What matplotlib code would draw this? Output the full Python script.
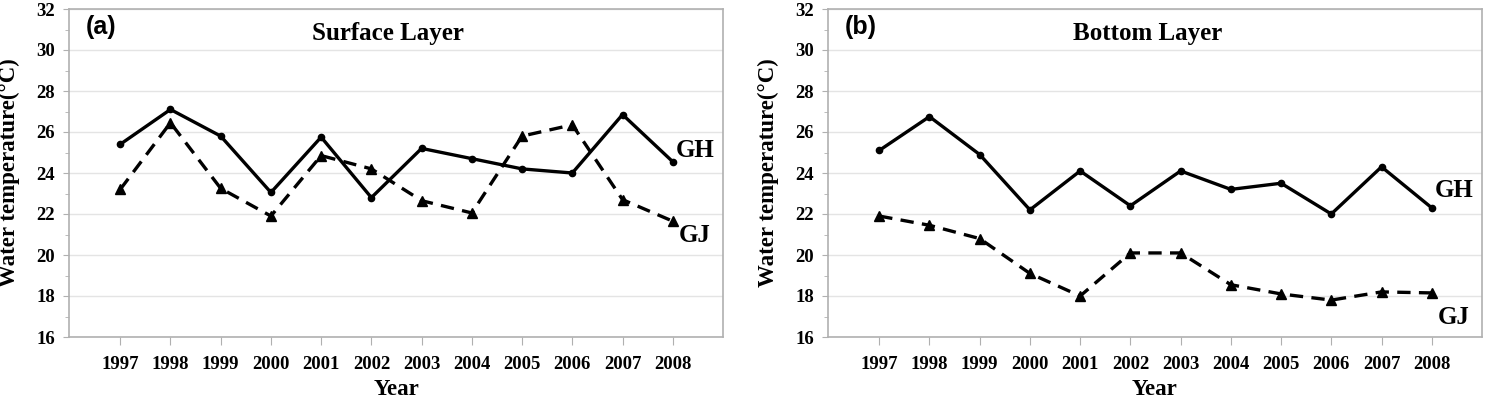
import numpy as np
import matplotlib
matplotlib.use("Agg")
import matplotlib.pyplot as plt
from matplotlib.ticker import MultipleLocator

plt.rcParams['font.family'] = ['Liberation Serif', 'DejaVu Serif']
plt.rcParams['font.weight'] = 'bold'

years = [1997, 1998, 1999, 2000, 2001, 2002, 2003, 2004, 2005, 2006, 2007, 2008]

surface_gh = [25.4, 27.1, 25.8, 23.05, 25.75, 22.8, 25.2, 24.7, 24.2, 24.0, 26.85, 24.55]
surface_gj = [23.2, 26.45, 23.25, 21.9, 24.85, 24.2, 22.65, 22.05, 25.8, 26.35, 22.7, 21.65]

bottom_gh = [25.1, 26.75, 24.9, 22.2, 24.1, 22.4, 24.1, 23.2, 23.5, 22.0, 24.3, 22.3]
bottom_gj = [21.9, 21.45, 20.8, 19.1, 18.0, 20.1, 20.1, 18.55, 18.1, 17.8, 18.2, 18.15]

panels = ['(a)', '(b)']
titles = ['Surface Layer', 'Bottom Layer']

fig = plt.figure(figsize=(14.9, 4.01), dpi=100)
ax_pos = [[69/1490, 1-337/401, 654/1490, 328/401],
          [828/1490, 1-337/401, 654/1490, 328/401]]

data = [(surface_gh, surface_gj), (bottom_gh, bottom_gj)]
# vertical offsets of the series name next to the last point
gh_off = [0.57, 0.87]
gj_off = [-0.72, -1.22]

for i in range(2):
    ax = fig.add_axes(ax_pos[i])
    gh, gj = data[i]
    ax.plot(years, gh, color='black', lw=2.4, marker='o', ms=4.5)
    ax.plot(years, gj, color='black', lw=2.4, ls=(0, (4, 2.5)), marker='^', ms=6.5)
    ax.set_xlim(1995.98, 2009.0)
    ax.set_ylim(16, 32)
    ax.yaxis.set_major_locator(MultipleLocator(2))
    ax.yaxis.set_minor_locator(MultipleLocator(1))
    ax.set_xticks(years)
    ax.grid(axis='y', color='#e4e4e4', lw=1)
    ax.set_axisbelow(True)
    for s in ax.spines.values():
        s.set_color('#b0b0b0')
        s.set_linewidth(1.2)
    ax.tick_params(axis='y', which='major', length=4, color='#b0b0b0', labelsize=13.5, pad=6)
    ax.tick_params(axis='y', which='minor', length=3, color='#b0b0b0')
    ax.tick_params(axis='x', length=6, color='#b0b0b0', labelsize=13.5, pad=8)
    for lab in ax.get_xticklabels() + ax.get_yticklabels():
        lab.set_fontweight('bold')
    ax.set_ylabel('Water temperature(°C)', fontsize=16.5, fontweight='bold', labelpad=12)
    ax.set_xlabel('Year', fontsize=16.5, fontweight='bold', labelpad=4)
    ax.text(0.025, 0.945, panels[i], transform=ax.transAxes, family='Liberation Sans',
            fontsize=18, fontweight='bold', va='center', ha='left')
    ax.text(0.488, 0.925, titles[i], transform=ax.transAxes,
            fontsize=18, fontweight='bold', va='center', ha='center')
    ax.text(2008.06, gh[-1] + gh_off[i], 'GH', fontsize=18, fontweight='bold', va='center', ha='left')
    ax.text(2008.12, gj[-1] + gj_off[i], 'GJ', fontsize=18, fontweight='bold', va='center', ha='left')

fig.savefig('out.png', dpi=100)
